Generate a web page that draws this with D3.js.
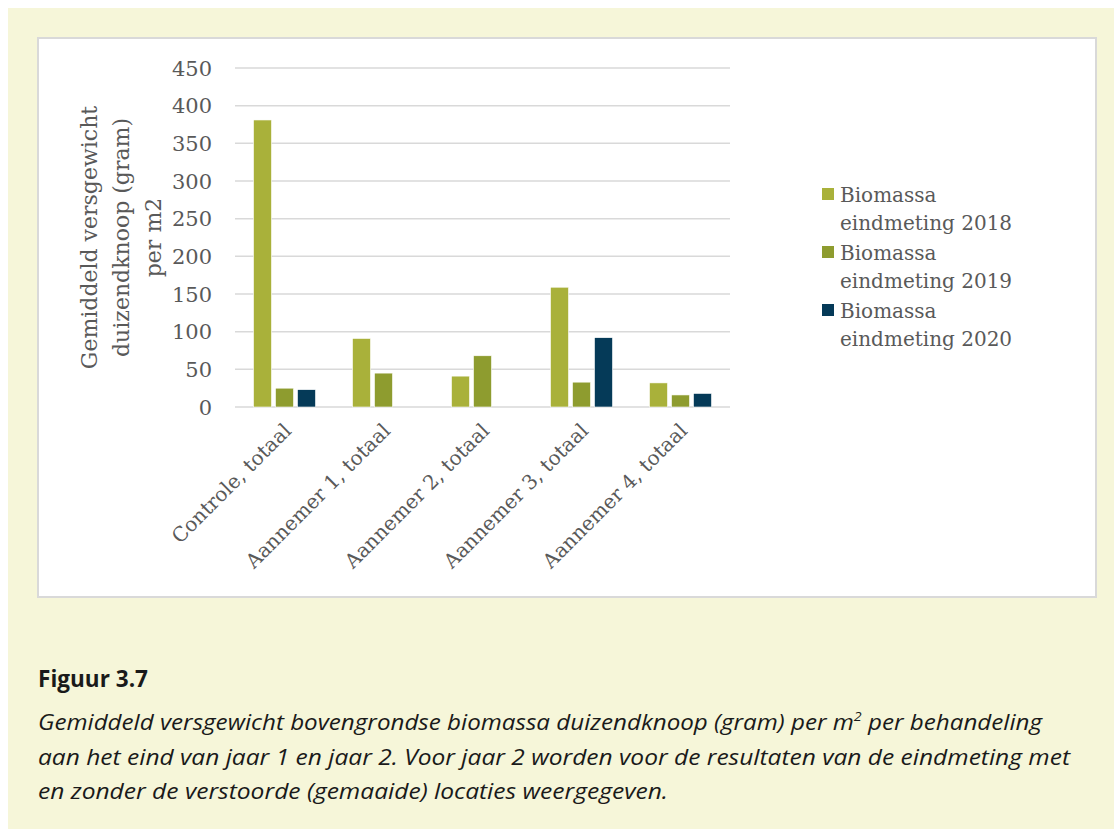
<!DOCTYPE html>
<html>
<head>
<meta charset="utf-8">
<script src="https://cdn.jsdelivr.net/npm/d3@7"></script>
<style>
	body { margin: 0; background: #fff; }
	svg { display: block; }
	.tick-label, .axis-title, .cat-label, .legend-text { font-family: "DejaVu Serif", serif; fill: #595959; }
	.caption { font-family: "Open Sans", Lato, sans-serif; fill: #1a1a1a; }
</style>
</head>
<body>
<div id="chart-area"></div>
<script>
// Data
var categories = ["Controle, totaal", "Aannemer 1, totaal", "Aannemer 2, totaal", "Aannemer 3, totaal", "Aannemer 4, totaal"];
var seriesNames = ["Biomassa eindmeting 2018", "Biomassa eindmeting 2019", "Biomassa eindmeting 2020"];
var values2018 = [381, 91, 41, 159, 32];
var values2019 = [25, 45, 68, 33, 16];
var values2020 = [23, null, null, 92, 18];
var yTicks = [0, 50, 100, 150, 200, 250, 300, 350, 400, 450];
var colors = ["#a9b13a", "#8e9c2f", "#053a58"];

var allSeries = [values2018, values2019, values2020];

var width = 1114, height = 829;

var svg = d3.select("#chart-area").append("svg")
	.attr("width", width)
	.attr("height", height);

// cream panel + white chart box
svg.append("rect").attr("x", 8).attr("y", 8).attr("width", width - 8).attr("height", height - 8)
	.attr("fill", "#f6f6d9");
svg.append("rect").attr("x", 38).attr("y", 38).attr("width", 1058).attr("height", 559)
	.attr("fill", "#fff").attr("stroke", "#d9d9d9").attr("stroke-width", 2);

// scales
var plot = {left: 235, right: 730, top: 68, bottom: 407};

var xScale = d3.scaleBand()
	.domain(categories)
	.range([plot.left, plot.right]);

var yScale = d3.scaleLinear()
	.domain([0, 450])
	.range([plot.bottom, plot.top]);

var barWidth = 18, barStep = 22;
var xInner = d3.scaleLinear().domain([0, 1]).range([0, barStep]);

// gridlines
svg.append("g").selectAll("line")
	.data(yTicks)
	.enter().append("line")
	.attr("x1", plot.left).attr("x2", plot.right)
	.attr("y1", d => yScale(d)).attr("y2", d => yScale(d))
	.attr("stroke", "#d9d9d9").attr("stroke-width", 1.5);

// y tick labels
svg.append("g").selectAll("text")
	.data(yTicks)
	.enter().append("text")
	.attr("class", "tick-label")
	.attr("x", 212)
	.attr("y", d => yScale(d))
	.attr("dy", "0.36em")
	.attr("text-anchor", "end")
	.style("font-size", "21px")
	.text(d => d);

// bars
allSeries.forEach(function(vals, s) {
	var rows = categories.map((c, i) => ({cat: c, v: vals[i]})).filter(d => d.v != null);
	svg.append("g").selectAll("rect")
		.data(rows)
		.enter().append("rect")
		.attr("x", d => xScale(d.cat) + xScale.bandwidth() / 2 - (3 * barWidth + 2 * (barStep - barWidth)) / 2 + xInner(s))
		.attr("y", d => yScale(d.v))
		.attr("width", barWidth)
		.attr("height", d => yScale(0) - yScale(d.v))
		.attr("fill", colors[s])
		.attr("stroke", "#fff").attr("stroke-width", 0.6);
});

// category labels
svg.append("g").selectAll("text")
	.data(categories)
	.enter().append("text")
	.attr("class", "cat-label")
	.attr("text-anchor", "end")
	.style("font-size", "20px")
	.attr("transform", d => "translate(" + (xScale(d) + xScale.bandwidth() / 2 + 8) + "," + 432 + ") rotate(-45)")
	.text(d => d);

// y axis title
var titleLines = ["Gemiddeld versgewicht", "duizendknoop (gram)", "per m2"];
var yTitle = svg.append("text")
	.attr("class", "axis-title")
	.attr("text-anchor", "middle")
	.style("font-size", "22px")
	.attr("transform", "translate(97," + ((plot.top + plot.bottom) / 2) + ") rotate(-90)");
titleLines.forEach(function(l, i) {
	yTitle.append("tspan").attr("x", 0).attr("y", i * 32).text(l);
});

// legend
var legend = svg.append("g").attr("transform", "translate(822,188)");
seriesNames.forEach(function(name, i) {
	var g = legend.append("g").attr("transform", "translate(0," + (i * 58) + ")");
	g.append("rect").attr("width", 12).attr("height", 12).attr("fill", colors[i]);
	var words = name.split(" ");
	var t = g.append("text").attr("class", "legend-text").style("font-size", "20px");
	t.append("tspan").attr("x", 18).attr("y", 14).text(words[0]);
	t.append("tspan").attr("x", 18).attr("y", 42).text(words.slice(1).join(" "));
});

// caption
svg.append("text").attr("class", "caption")
	.attr("x", 38).attr("y", 687)
	.attr("textLength", 110).attr("lengthAdjust", "spacingAndGlyphs")
	.style("font-size", "23px").style("font-weight", "bold")
	.text("Figuur 3.7");

var capLines = [
	["Gemiddeld versgewicht bovengrondse biomassa duizendknoop (gram) per m", "2", " per behandeling"],
	["aan het eind van jaar 1 en jaar 2. Voor jaar 2 worden voor de resultaten van de eindmeting met"],
	["en zonder de verstoorde (gemaaide) locaties weergegeven."]
];
var capWidths = [1004, 1032, 630];

capLines.forEach(function(parts, i) {
	var t = svg.append("text").attr("class", "caption")
		.attr("x", 38).attr("y", 730 + i * 34.5)
		.style("font-size", "22px").style("font-style", "italic");
	t.append("tspan").text(parts[0]);
	if (parts.length > 1) {
		t.append("tspan").attr("dy", -9).style("font-size", "13px").text(parts[1]);
		t.append("tspan").attr("dy", 9).text(parts[2]);
	}
	t.attr("textLength", capWidths[i]).attr("lengthAdjust", "spacingAndGlyphs");
});
</script>
</body>
</html>
